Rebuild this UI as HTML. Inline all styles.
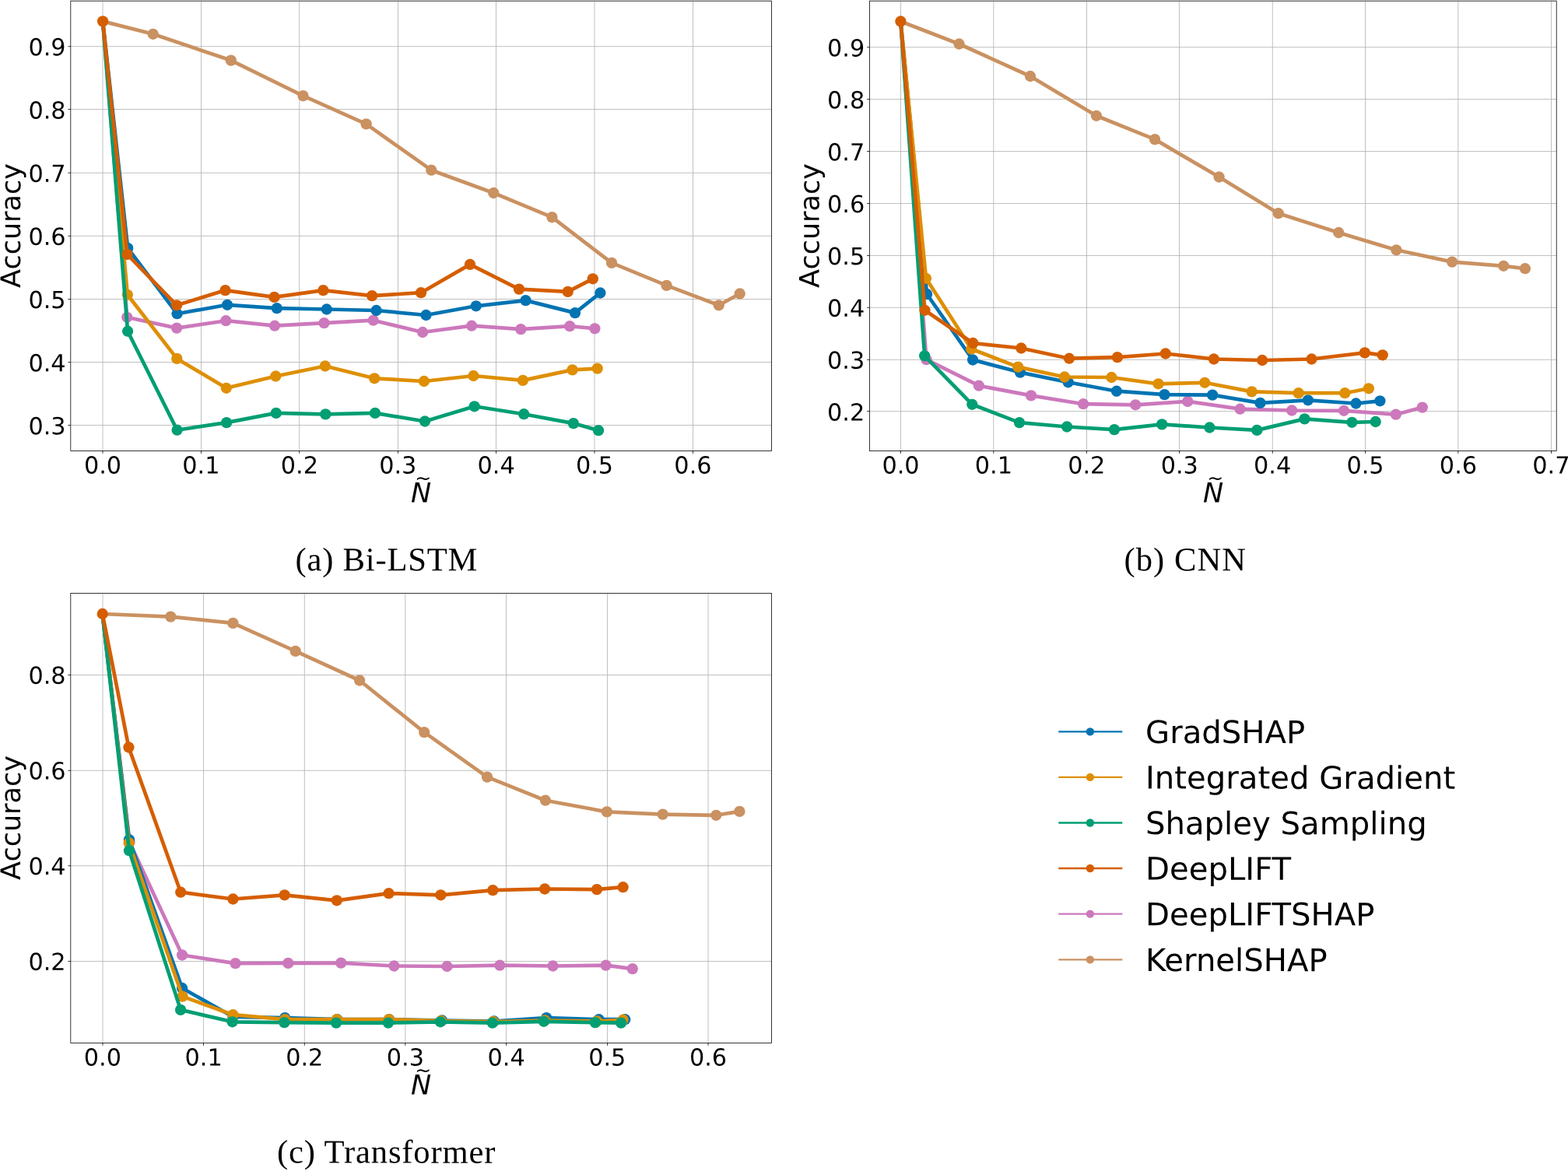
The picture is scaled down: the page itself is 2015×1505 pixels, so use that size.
<!DOCTYPE html>
<html lang="en">
<head>
<meta charset="utf-8">
<title>Accuracy vs. normalized perturbation: Bi-LSTM, CNN, Transformer</title>
<style>
html,body{margin:0;padding:0;background:#fff;}
body{width:2015px;height:1505px;overflow:hidden;}
svg{display:block;}
text{font-family:"DejaVu Sans","Liberation Sans",sans-serif;fill:#000;text-rendering:geometricPrecision;}
.grid{fill:none;stroke:#b0b0b0;stroke-width:0.8;}
.tick{fill:none;stroke:#000;stroke-width:0.8;}
.spine{fill:none;stroke:#000;stroke-width:0.8;}
.ln{fill:none;stroke-width:4.7;stroke-linejoin:round;stroke-linecap:butt;}
.lg{fill:none;stroke-width:2.4;}
.tl{font-size:30.3px;}
.al{font-size:35px;}
.nl{font-size:35px;font-style:italic;}
.nt{font-size:25px;}
.lt{font-size:40.2px;}
.cap{font-family:"Liberation Serif","DejaVu Serif",serif;font-size:42.6px;}
.s-grad .ln,.s-grad .lg{stroke:#0173b2;}.s-grad circle{fill:#0173b2;}
.s-ig .ln,.s-ig .lg{stroke:#de8f05;}.s-ig circle{fill:#de8f05;}
.s-shap .ln,.s-shap .lg{stroke:#029e73;}.s-shap circle{fill:#029e73;}
.s-dl .ln,.s-dl .lg{stroke:#d55e00;}.s-dl circle{fill:#d55e00;}
.s-dls .ln,.s-dls .lg{stroke:#cc78bc;}.s-dls circle{fill:#cc78bc;}
.s-kernel .ln,.s-kernel .lg{stroke:#ca9161;}.s-kernel circle{fill:#ca9161;}
</style>
</head>
<body>
<svg xmlns="http://www.w3.org/2000/svg" width="2015" height="1505" viewBox="0 0 2015 1505">
<rect x="0" y="0" width="2015" height="1505" fill="#ffffff"/>
<g id="chart-a">
<path class="grid" d="M132 1.2V579.5M258.5 1.2V579.5M384.7 1.2V579.5M511.5 1.2V579.5M637.5 1.2V579.5M764 1.2V579.5M890.5 1.2V579.5M90.8 59.7H991.5M90.8 140.5H991.5M90.8 222.2H991.5M90.8 303.3H991.5M90.8 384.5H991.5M90.8 465.5H991.5M90.8 546.5H991.5"/>
<g class="s-kernel"><polyline class="ln" points="132.1,27.4 196.65,43.8 296.8,77.6 389.5,123.1 470.6,159.4 554.3,218.7 634.3,248 709.4,279.1 786.1,337.9 856.6,366.9 923.7,392.3 950.7,377.5"/>
<circle cx="196.65" cy="43.8" r="7.15"/><circle cx="296.8" cy="77.6" r="7.15"/><circle cx="389.5" cy="123.1" r="7.15"/><circle cx="470.6" cy="159.4" r="7.15"/><circle cx="554.3" cy="218.7" r="7.15"/><circle cx="634.3" cy="248" r="7.15"/><circle cx="709.4" cy="279.1" r="7.15"/><circle cx="786.1" cy="337.9" r="7.15"/><circle cx="856.6" cy="366.9" r="7.15"/><circle cx="923.7" cy="392.3" r="7.15"/><circle cx="950.7" cy="377.5" r="7.15"/></g>
<g class="s-dls"><polyline class="ln" points="132.1,27.4 163.3,407.8 227.1,421.6 290.3,412.2 353,418.7 416.5,415.1 479.7,411.7 543.1,427 606.1,418.7 669.3,423.1 732.2,419.2 764.4,422.3"/>
<circle cx="163.3" cy="407.8" r="7.15"/><circle cx="227.1" cy="421.6" r="7.15"/><circle cx="290.3" cy="412.2" r="7.15"/><circle cx="353" cy="418.7" r="7.15"/><circle cx="416.5" cy="415.1" r="7.15"/><circle cx="479.7" cy="411.7" r="7.15"/><circle cx="543.1" cy="427" r="7.15"/><circle cx="606.1" cy="418.7" r="7.15"/><circle cx="669.3" cy="423.1" r="7.15"/><circle cx="732.2" cy="419.2" r="7.15"/><circle cx="764.4" cy="422.3" r="7.15"/></g>
<g class="s-grad"><polyline class="ln" points="132.1,27.4 164.2,318.9 227.6,403.2 292.1,391.8 355.8,396.2 419.8,397.5 483.6,399 547.5,405 611.8,393.3 675.5,386.1 739,402.1 771.4,376.5"/>
<circle cx="164.2" cy="318.9" r="7.15"/><circle cx="227.6" cy="403.2" r="7.15"/><circle cx="292.1" cy="391.8" r="7.15"/><circle cx="355.8" cy="396.2" r="7.15"/><circle cx="419.8" cy="397.5" r="7.15"/><circle cx="483.6" cy="399" r="7.15"/><circle cx="547.5" cy="405" r="7.15"/><circle cx="611.8" cy="393.3" r="7.15"/><circle cx="675.5" cy="386.1" r="7.15"/><circle cx="739" cy="402.1" r="7.15"/><circle cx="771.4" cy="376.5" r="7.15"/></g>
<g class="s-ig"><polyline class="ln" points="132.1,27.4 163.8,378.8 227.3,460.9 290.8,498.8 354.3,483.5 417.8,470.5 481.2,486.3 544.9,490 608.4,483 671.9,488.9 735.6,475.4 767.7,473.6"/>
<circle cx="163.8" cy="378.8" r="7.15"/><circle cx="227.3" cy="460.9" r="7.15"/><circle cx="290.8" cy="498.8" r="7.15"/><circle cx="354.3" cy="483.5" r="7.15"/><circle cx="417.8" cy="470.5" r="7.15"/><circle cx="481.2" cy="486.3" r="7.15"/><circle cx="544.9" cy="490" r="7.15"/><circle cx="608.4" cy="483" r="7.15"/><circle cx="671.9" cy="488.9" r="7.15"/><circle cx="735.6" cy="475.4" r="7.15"/><circle cx="767.7" cy="473.6" r="7.15"/></g>
<g class="s-shap"><polyline class="ln" points="132.1,27.4 164.1,425.7 227.6,552.7 291.1,543.1 354.8,530.9 418.3,532.4 482,530.9 546,541.5 609.7,522.3 673.2,532.2 736.9,544.1 769,553.2"/>
<circle cx="164.1" cy="425.7" r="7.15"/><circle cx="227.6" cy="552.7" r="7.15"/><circle cx="291.1" cy="543.1" r="7.15"/><circle cx="354.8" cy="530.9" r="7.15"/><circle cx="418.3" cy="532.4" r="7.15"/><circle cx="482" cy="530.9" r="7.15"/><circle cx="546" cy="541.5" r="7.15"/><circle cx="609.7" cy="522.3" r="7.15"/><circle cx="673.2" cy="532.2" r="7.15"/><circle cx="736.9" cy="544.1" r="7.15"/><circle cx="769" cy="553.2" r="7.15"/></g>
<g class="s-dl"><polyline class="ln" points="132.1,27.4 163.5,326.9 227.1,392.3 289.5,373.1 352.5,381.9 415.4,373.1 478.1,380.1 541,376.2 604,339.9 667,371.6 729.7,374.9 761.8,358.3"/>
<circle cx="132.1" cy="27.4" r="7.15"/><circle cx="163.5" cy="326.9" r="7.15"/><circle cx="227.1" cy="392.3" r="7.15"/><circle cx="289.5" cy="373.1" r="7.15"/><circle cx="352.5" cy="381.9" r="7.15"/><circle cx="415.4" cy="373.1" r="7.15"/><circle cx="478.1" cy="380.1" r="7.15"/><circle cx="541" cy="376.2" r="7.15"/><circle cx="604" cy="339.9" r="7.15"/><circle cx="667" cy="371.6" r="7.15"/><circle cx="729.7" cy="374.9" r="7.15"/><circle cx="761.8" cy="358.3" r="7.15"/></g>
<path class="tick" d="M132 579.5v3.4M258.5 579.5v3.4M384.7 579.5v3.4M511.5 579.5v3.4M637.5 579.5v3.4M764 579.5v3.4M890.5 579.5v3.4M90.8 59.7h-3.4M90.8 140.5h-3.4M90.8 222.2h-3.4M90.8 303.3h-3.4M90.8 384.5h-3.4M90.8 465.5h-3.4M90.8 546.5h-3.4"/>
<rect class="spine" x="90.8" y="1.2" width="900.7" height="578.3"/>
<text class="tl" transform="translate(132.03,608.55) rotate(0.04)" text-anchor="middle">0.0</text>
<text class="tl" transform="translate(258.44,608.55) rotate(0.04)" text-anchor="middle">0.1</text>
<text class="tl" transform="translate(384.84,608.55) rotate(0.04)" text-anchor="middle">0.2</text>
<text class="tl" transform="translate(511.24,608.55) rotate(0.04)" text-anchor="middle">0.3</text>
<text class="tl" transform="translate(637.65,608.55) rotate(0.04)" text-anchor="middle">0.4</text>
<text class="tl" transform="translate(764.05,608.55) rotate(0.04)" text-anchor="middle">0.5</text>
<text class="tl" transform="translate(890.45,608.55) rotate(0.04)" text-anchor="middle">0.6</text>
<text class="tl" transform="translate(84.6,71.37) rotate(0.04)" text-anchor="end">0.9</text>
<text class="tl" transform="translate(84.6,152.54) rotate(0.04)" text-anchor="end">0.8</text>
<text class="tl" transform="translate(84.6,233.7) rotate(0.04)" text-anchor="end">0.7</text>
<text class="tl" transform="translate(84.6,314.87) rotate(0.04)" text-anchor="end">0.6</text>
<text class="tl" transform="translate(84.6,396.04) rotate(0.04)" text-anchor="end">0.5</text>
<text class="tl" transform="translate(84.6,477.21) rotate(0.04)" text-anchor="end">0.4</text>
<text class="tl" transform="translate(84.6,558.38) rotate(0.04)" text-anchor="end">0.3</text>
<text class="al" transform="translate(26.1,290) rotate(-89.96)" text-anchor="middle">Accuracy</text>
<text class="nl" transform="translate(541,645.6) rotate(0.04)" text-anchor="middle">N</text>
<text class="nt" transform="translate(543.6,623.1) rotate(0.04)" text-anchor="middle">~</text>
</g>
<g id="chart-b">
<path class="grid" d="M1157.5 1.2V579.5M1276.8 1.2V579.5M1396.5 1.2V579.5M1515.5 1.2V579.5M1635.3 1.2V579.5M1754.5 1.2V579.5M1873.8 1.2V579.5M1993.5 1.2V579.5M1117.5 60.7H2000.2M1117.5 127.5H2000.2M1117.5 194.5H2000.2M1117.5 261.5H2000.2M1117.5 328.5H2000.2M1117.5 395.3H2000.2M1117.5 462.3H2000.2M1117.5 528.6H2000.2"/>
<g class="s-kernel"><polyline class="ln" points="1157.4,27.5 1232.5,56.5 1324,98 1408.9,148.8 1484.1,179.1 1566.6,227.5 1642.8,274.2 1720.3,299 1794.4,321.3 1866.1,336.6 1932.2,341.8 1959.9,345.2"/>
<circle cx="1232.5" cy="56.5" r="7.15"/><circle cx="1324" cy="98" r="7.15"/><circle cx="1408.9" cy="148.8" r="7.15"/><circle cx="1484.1" cy="179.1" r="7.15"/><circle cx="1566.6" cy="227.5" r="7.15"/><circle cx="1642.8" cy="274.2" r="7.15"/><circle cx="1720.3" cy="299" r="7.15"/><circle cx="1794.4" cy="321.3" r="7.15"/><circle cx="1866.1" cy="336.6" r="7.15"/><circle cx="1932.2" cy="341.8" r="7.15"/><circle cx="1959.9" cy="345.2" r="7.15"/></g>
<g class="s-dls"><polyline class="ln" points="1157.4,27.5 1190.5,462.2 1257.9,495.7 1325,508.4 1392.1,519.2 1459.2,520.3 1526.2,515.9 1593.6,525.7 1660.1,527.5 1727,527.8 1793.8,532.7 1827.8,523.6"/>
<circle cx="1190.5" cy="462.2" r="7.15"/><circle cx="1257.9" cy="495.7" r="7.15"/><circle cx="1325" cy="508.4" r="7.15"/><circle cx="1392.1" cy="519.2" r="7.15"/><circle cx="1459.2" cy="520.3" r="7.15"/><circle cx="1526.2" cy="515.9" r="7.15"/><circle cx="1593.6" cy="525.7" r="7.15"/><circle cx="1660.1" cy="527.5" r="7.15"/><circle cx="1727" cy="527.8" r="7.15"/><circle cx="1793.8" cy="532.7" r="7.15"/><circle cx="1827.8" cy="523.6" r="7.15"/></g>
<g class="s-grad"><polyline class="ln" points="1157.4,27.5 1191.1,378 1250.1,462.5 1311,478.6 1372.7,491.3 1434.9,502.7 1496.5,507.1 1558.1,507.6 1619.5,517.9 1680.9,514.3 1742.5,518.5 1773.4,515.3"/>
<circle cx="1191.1" cy="378" r="7.15"/><circle cx="1250.1" cy="462.5" r="7.15"/><circle cx="1311" cy="478.6" r="7.15"/><circle cx="1372.7" cy="491.3" r="7.15"/><circle cx="1434.9" cy="502.7" r="7.15"/><circle cx="1496.5" cy="507.1" r="7.15"/><circle cx="1558.1" cy="507.6" r="7.15"/><circle cx="1619.5" cy="517.9" r="7.15"/><circle cx="1680.9" cy="514.3" r="7.15"/><circle cx="1742.5" cy="518.5" r="7.15"/><circle cx="1773.4" cy="515.3" r="7.15"/></g>
<g class="s-ig"><polyline class="ln" points="1157.4,27.5 1190,357.8 1248.3,448.5 1308.2,471.6 1368,484.5 1428.4,485 1488.5,493.3 1548.2,491.8 1608.6,503.4 1668.7,505.2 1728.3,505.2 1758.9,499.3"/>
<circle cx="1190" cy="357.8" r="7.15"/><circle cx="1248.3" cy="448.5" r="7.15"/><circle cx="1308.2" cy="471.6" r="7.15"/><circle cx="1368" cy="484.5" r="7.15"/><circle cx="1428.4" cy="485" r="7.15"/><circle cx="1488.5" cy="493.3" r="7.15"/><circle cx="1548.2" cy="491.8" r="7.15"/><circle cx="1608.6" cy="503.4" r="7.15"/><circle cx="1668.7" cy="505.2" r="7.15"/><circle cx="1728.3" cy="505.2" r="7.15"/><circle cx="1758.9" cy="499.3" r="7.15"/></g>
<g class="s-shap"><polyline class="ln" points="1157.4,27.5 1188.2,457.3 1249.3,519.8 1310,543.1 1371.1,548.5 1432,552.1 1493.2,545.4 1554.4,549.5 1615.3,552.9 1676.5,538.4 1737.4,542.8 1767.7,542"/>
<circle cx="1188.2" cy="457.3" r="7.15"/><circle cx="1249.3" cy="519.8" r="7.15"/><circle cx="1310" cy="543.1" r="7.15"/><circle cx="1371.1" cy="548.5" r="7.15"/><circle cx="1432" cy="552.1" r="7.15"/><circle cx="1493.2" cy="545.4" r="7.15"/><circle cx="1554.4" cy="549.5" r="7.15"/><circle cx="1615.3" cy="552.9" r="7.15"/><circle cx="1676.5" cy="538.4" r="7.15"/><circle cx="1737.4" cy="542.8" r="7.15"/><circle cx="1767.7" cy="542" r="7.15"/></g>
<g class="s-dl"><polyline class="ln" points="1157.4,27.5 1188.5,398.8 1250.4,441 1312.3,447.5 1374,460.7 1435.9,459.1 1497.8,454.5 1559.9,461.5 1622.1,463 1685.5,461.5 1753.9,453.4 1776.7,456.3"/>
<circle cx="1157.4" cy="27.5" r="7.15"/><circle cx="1188.5" cy="398.8" r="7.15"/><circle cx="1250.4" cy="441" r="7.15"/><circle cx="1312.3" cy="447.5" r="7.15"/><circle cx="1374" cy="460.7" r="7.15"/><circle cx="1435.9" cy="459.1" r="7.15"/><circle cx="1497.8" cy="454.5" r="7.15"/><circle cx="1559.9" cy="461.5" r="7.15"/><circle cx="1622.1" cy="463" r="7.15"/><circle cx="1685.5" cy="461.5" r="7.15"/><circle cx="1753.9" cy="453.4" r="7.15"/><circle cx="1776.7" cy="456.3" r="7.15"/></g>
<path class="tick" d="M1157.5 579.5v3.4M1276.8 579.5v3.4M1396.5 579.5v3.4M1515.5 579.5v3.4M1635.3 579.5v3.4M1754.5 579.5v3.4M1873.8 579.5v3.4M1993.5 579.5v3.4M1117.5 60.7h-3.4M1117.5 127.5h-3.4M1117.5 194.5h-3.4M1117.5 261.5h-3.4M1117.5 328.5h-3.4M1117.5 395.3h-3.4M1117.5 462.3h-3.4M1117.5 528.6h-3.4"/>
<rect class="spine" x="1117.5" y="1.2" width="882.7" height="578.3"/>
<text class="tl" transform="translate(1157.47,608.5) rotate(0.04)" text-anchor="middle">0.0</text>
<text class="tl" transform="translate(1276.89,608.5) rotate(0.04)" text-anchor="middle">0.1</text>
<text class="tl" transform="translate(1396.3,608.5) rotate(0.04)" text-anchor="middle">0.2</text>
<text class="tl" transform="translate(1515.72,608.5) rotate(0.04)" text-anchor="middle">0.3</text>
<text class="tl" transform="translate(1635.13,608.5) rotate(0.04)" text-anchor="middle">0.4</text>
<text class="tl" transform="translate(1754.55,608.5) rotate(0.04)" text-anchor="middle">0.5</text>
<text class="tl" transform="translate(1873.96,608.5) rotate(0.04)" text-anchor="middle">0.6</text>
<text class="tl" transform="translate(1993.38,608.5) rotate(0.04)" text-anchor="middle">0.7</text>
<text class="tl" transform="translate(1111.2,72.4) rotate(0.04)" text-anchor="end">0.9</text>
<text class="tl" transform="translate(1111.2,139.29) rotate(0.04)" text-anchor="end">0.8</text>
<text class="tl" transform="translate(1111.2,206.18) rotate(0.04)" text-anchor="end">0.7</text>
<text class="tl" transform="translate(1111.2,273.07) rotate(0.04)" text-anchor="end">0.6</text>
<text class="tl" transform="translate(1111.2,339.96) rotate(0.04)" text-anchor="end">0.5</text>
<text class="tl" transform="translate(1111.2,406.85) rotate(0.04)" text-anchor="end">0.4</text>
<text class="tl" transform="translate(1111.2,473.74) rotate(0.04)" text-anchor="end">0.3</text>
<text class="tl" transform="translate(1111.2,540.63) rotate(0.04)" text-anchor="end">0.2</text>
<text class="al" transform="translate(1052.6,290) rotate(-89.96)" text-anchor="middle">Accuracy</text>
<text class="nl" transform="translate(1559,645.6) rotate(0.04)" text-anchor="middle">N</text>
<text class="nt" transform="translate(1561.6,623.1) rotate(0.04)" text-anchor="middle">~</text>
</g>
<g id="chart-c">
<path class="grid" d="M132 762.5V1340.4M261.5 762.5V1340.4M391.3 762.5V1340.4M520.8 762.5V1340.4M650.5 762.5V1340.4M780.5 762.5V1340.4M910 762.5V1340.4M90.8 867.5H991.5M90.8 990.3H991.5M90.8 1112.7H991.5M90.8 1235.5H991.5"/>
<g class="s-kernel"><polyline class="ln" points="131.7,789 219.3,792.6 299.4,800.9 379.7,836.9 462.1,874.5 545.2,941.1 626,998.6 700.9,1028.7 779.9,1043.4 851.7,1046.6 920.3,1047.8 950.4,1042.9"/>
<circle cx="219.3" cy="792.6" r="7.15"/><circle cx="299.4" cy="800.9" r="7.15"/><circle cx="379.7" cy="836.9" r="7.15"/><circle cx="462.1" cy="874.5" r="7.15"/><circle cx="545.2" cy="941.1" r="7.15"/><circle cx="626" cy="998.6" r="7.15"/><circle cx="700.9" cy="1028.7" r="7.15"/><circle cx="779.9" cy="1043.4" r="7.15"/><circle cx="851.7" cy="1046.6" r="7.15"/><circle cx="920.3" cy="1047.8" r="7.15"/><circle cx="950.4" cy="1042.9" r="7.15"/></g>
<g class="s-dls"><polyline class="ln" points="131.7,789 166.5,1082.5 234.1,1227.5 302.5,1238.1 370.3,1237.9 438.2,1237.6 506.4,1241.5 574.5,1242 642.3,1240.7 710.5,1241.5 778.6,1240.7 812.8,1245.1"/>
<circle cx="166.5" cy="1082.5" r="7.15"/><circle cx="234.1" cy="1227.5" r="7.15"/><circle cx="302.5" cy="1238.1" r="7.15"/><circle cx="370.3" cy="1237.9" r="7.15"/><circle cx="438.2" cy="1237.6" r="7.15"/><circle cx="506.4" cy="1241.5" r="7.15"/><circle cx="574.5" cy="1242" r="7.15"/><circle cx="642.3" cy="1240.7" r="7.15"/><circle cx="710.5" cy="1241.5" r="7.15"/><circle cx="778.6" cy="1240.7" r="7.15"/><circle cx="812.8" cy="1245.1" r="7.15"/></g>
<g class="s-grad"><polyline class="ln" points="131.7,789 166,1079.2 234.1,1270 299.4,1306.8 366.2,1308.1 433.3,1310.2 500.1,1310.2 568,1311.5 634.8,1312.5 702.2,1308.1 769.6,1310.2 803.2,1310.2"/>
<circle cx="166" cy="1079.2" r="7.15"/><circle cx="234.1" cy="1270" r="7.15"/><circle cx="299.4" cy="1306.8" r="7.15"/><circle cx="366.2" cy="1308.1" r="7.15"/><circle cx="433.3" cy="1310.2" r="7.15"/><circle cx="500.1" cy="1310.2" r="7.15"/><circle cx="568" cy="1311.5" r="7.15"/><circle cx="634.8" cy="1312.5" r="7.15"/><circle cx="702.2" cy="1308.1" r="7.15"/><circle cx="769.6" cy="1310.2" r="7.15"/><circle cx="803.2" cy="1310.2" r="7.15"/></g>
<g class="s-ig"><polyline class="ln" points="131.7,789 165.7,1083.4 234.5,1280.6 299.4,1304.2 366.2,1310.2 432.8,1310.2 499.6,1310.2 566.9,1312 633.8,1313 700.1,1311.5 767,1312.5 800.6,1310.7"/>
<circle cx="165.7" cy="1083.4" r="7.15"/><circle cx="234.5" cy="1280.6" r="7.15"/><circle cx="299.4" cy="1304.2" r="7.15"/><circle cx="366.2" cy="1310.2" r="7.15"/><circle cx="432.8" cy="1310.2" r="7.15"/><circle cx="499.6" cy="1310.2" r="7.15"/><circle cx="566.9" cy="1312" r="7.15"/><circle cx="633.8" cy="1313" r="7.15"/><circle cx="700.1" cy="1311.5" r="7.15"/><circle cx="767" cy="1312.5" r="7.15"/><circle cx="800.6" cy="1310.7" r="7.15"/></g>
<g class="s-shap"><polyline class="ln" points="131.7,789 166,1093.2 232.1,1297.9 298.6,1313.3 365.4,1314.1 432,1314.6 498.9,1314.6 565.9,1313.3 632.8,1314.6 698.8,1312.8 764.9,1314.1 798.1,1314.6"/>
<circle cx="166" cy="1093.2" r="7.15"/><circle cx="232.1" cy="1297.9" r="7.15"/><circle cx="298.6" cy="1313.3" r="7.15"/><circle cx="365.4" cy="1314.1" r="7.15"/><circle cx="432" cy="1314.6" r="7.15"/><circle cx="498.9" cy="1314.6" r="7.15"/><circle cx="565.9" cy="1313.3" r="7.15"/><circle cx="632.8" cy="1314.6" r="7.15"/><circle cx="698.8" cy="1312.8" r="7.15"/><circle cx="764.9" cy="1314.1" r="7.15"/><circle cx="798.1" cy="1314.6" r="7.15"/></g>
<g class="s-dl"><polyline class="ln" points="131.7,789 165.4,960.5 232.2,1146.7 299.4,1155.5 365.7,1150.3 432.8,1157.3 499.6,1148.2 566.4,1150.3 633.3,1144.1 700.1,1142.5 767,1143.1 800.6,1140.2"/>
<circle cx="131.7" cy="789" r="7.15"/><circle cx="165.4" cy="960.5" r="7.15"/><circle cx="232.2" cy="1146.7" r="7.15"/><circle cx="299.4" cy="1155.5" r="7.15"/><circle cx="365.7" cy="1150.3" r="7.15"/><circle cx="432.8" cy="1157.3" r="7.15"/><circle cx="499.6" cy="1148.2" r="7.15"/><circle cx="566.4" cy="1150.3" r="7.15"/><circle cx="633.3" cy="1144.1" r="7.15"/><circle cx="700.1" cy="1142.5" r="7.15"/><circle cx="767" cy="1143.1" r="7.15"/><circle cx="800.6" cy="1140.2" r="7.15"/></g>
<path class="tick" d="M132 1340.4v3.4M261.5 1340.4v3.4M391.3 1340.4v3.4M520.8 1340.4v3.4M650.5 1340.4v3.4M780.5 1340.4v3.4M910 1340.4v3.4M90.8 867.5h-3.4M90.8 990.3h-3.4M90.8 1112.7h-3.4M90.8 1235.5h-3.4"/>
<rect class="spine" x="90.8" y="762.5" width="900.7" height="577.9"/>
<text class="tl" transform="translate(131.89,1369.6) rotate(0.04)" text-anchor="middle">0.0</text>
<text class="tl" transform="translate(261.57,1369.6) rotate(0.04)" text-anchor="middle">0.1</text>
<text class="tl" transform="translate(391.26,1369.6) rotate(0.04)" text-anchor="middle">0.2</text>
<text class="tl" transform="translate(520.94,1369.6) rotate(0.04)" text-anchor="middle">0.3</text>
<text class="tl" transform="translate(650.63,1369.6) rotate(0.04)" text-anchor="middle">0.4</text>
<text class="tl" transform="translate(780.31,1369.6) rotate(0.04)" text-anchor="middle">0.5</text>
<text class="tl" transform="translate(910,1369.6) rotate(0.04)" text-anchor="middle">0.6</text>
<text class="tl" transform="translate(84.65,878.84) rotate(0.04)" text-anchor="end">0.8</text>
<text class="tl" transform="translate(84.65,1001.48) rotate(0.04)" text-anchor="end">0.6</text>
<text class="tl" transform="translate(84.65,1124.12) rotate(0.04)" text-anchor="end">0.4</text>
<text class="tl" transform="translate(84.65,1246.76) rotate(0.04)" text-anchor="end">0.2</text>
<text class="al" transform="translate(26.1,1051) rotate(-89.96)" text-anchor="middle">Accuracy</text>
<text class="nl" transform="translate(541,1406.6) rotate(0.04)" text-anchor="middle">N</text>
<text class="nt" transform="translate(543.6,1384.1) rotate(0.04)" text-anchor="middle">~</text>
</g>
<g id="legend">
<g class="s-grad"><path class="lg" d="M1360.3 940.4H1442.3"/><circle cx="1400.9" cy="940.4" r="5.2"/></g>
<text class="lt" transform="translate(1472.0,955) rotate(0.04)">GradSHAP</text>
<g class="s-ig"><path class="lg" d="M1360.3 998.9H1442.3"/><circle cx="1400.9" cy="998.9" r="5.2"/></g>
<text class="lt" transform="translate(1472.0,1013.5) rotate(0.04)">Integrated Gradient</text>
<g class="s-shap"><path class="lg" d="M1360.3 1057.5H1442.3"/><circle cx="1400.9" cy="1057.5" r="5.2"/></g>
<text class="lt" transform="translate(1472.0,1072.1) rotate(0.04)">Shapley Sampling</text>
<g class="s-dl"><path class="lg" d="M1360.3 1116.0H1442.3"/><circle cx="1400.9" cy="1116" r="5.2"/></g>
<text class="lt" transform="translate(1472.0,1130.6) rotate(0.04)">DeepLIFT</text>
<g class="s-dls"><path class="lg" d="M1360.3 1174.6H1442.3"/><circle cx="1400.9" cy="1174.6" r="5.2"/></g>
<text class="lt" transform="translate(1472.0,1189.2) rotate(0.04)">DeepLIFTSHAP</text>
<g class="s-kernel"><path class="lg" d="M1360.3 1233.4H1442.3"/><circle cx="1400.9" cy="1233.4" r="5.2"/></g>
<text class="lt" transform="translate(1472.0,1248) rotate(0.04)">KernelSHAP</text>
</g>
<g id="captions">
<text class="cap" transform="translate(379.5,733.2) rotate(0.04)" textLength="234" lengthAdjust="spacing">(a) Bi-LSTM</text>
<text class="cap" transform="translate(1444.5,733.2) rotate(0.04)" textLength="156.5" lengthAdjust="spacing">(b) CNN</text>
<text class="cap" transform="translate(356.0,1494.5) rotate(0.04)" textLength="280.5" lengthAdjust="spacing">(c) Transformer</text>
</g>
</svg>
</body>
</html>
